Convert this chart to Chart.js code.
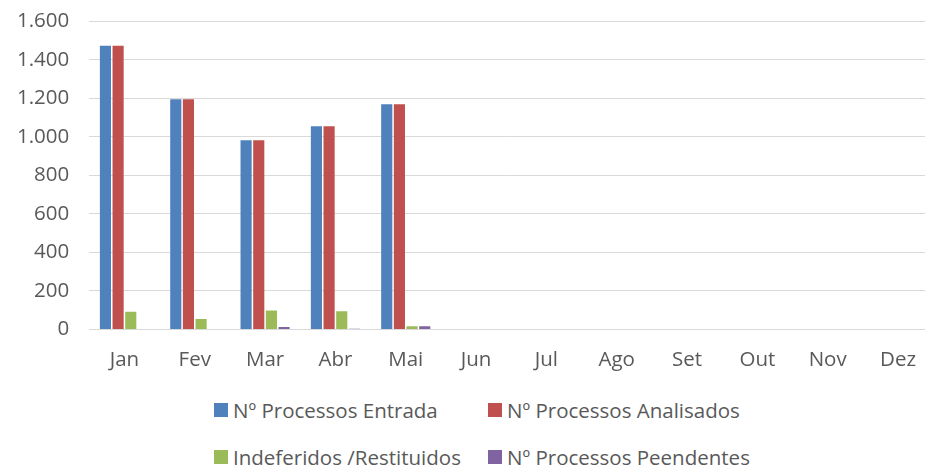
<!DOCTYPE html>
<html>
<head>
<meta charset="utf-8">
<script src="https://cdn.jsdelivr.net/npm/chart.js@4/dist/chart.umd.min.js"></script>
<style>
  html, body { margin: 0; padding: 0; background: #fff; overflow: hidden; }
  #wrap { position: relative; width: 925px; height: 468px; overflow: hidden; }
  #c { position: absolute; left: -9px; top: -11px; }
  #legend {
    position: absolute; left: 214px; top: 398px;
    display: grid; grid-template-columns: 274px 274px; row-gap: 23px;
    font: 20.5px "Open Sans", sans-serif; color: #595959;
  }
  .item { display: flex; align-items: center; white-space: nowrap; height: 24px; }
  .sw { width: 14px; height: 14px; margin-right: 5px; }
</style>
</head>
<body>
<div id="wrap">
  <canvas id="c" width="943" height="401"></canvas>
  <div id="legend"></div>
</div>
<script>
// meses
const meses = ['Jan', 'Fev', 'Mar', 'Abr', 'Mai', 'Jun', 'Jul', 'Ago', 'Set', 'Out', 'Nov', 'Dez'];

// valores (Jun–Dez vazios)
const entrada     = [1473, 1195, 982, 1055, 1169, 0, 0, 0, 0, 0, 0, 0];
const analisados  = [1473, 1195, 982, 1055, 1169, 0, 0, 0, 0, 0, 0, 0];
const indeferidos = [92, 54, 98, 94, 16, 0, 0, 0, 0, 0, 0, 0];
const pendentes   = [0, 0, 12, 4, 17, 0, 0, 0, 0, 0, 0, 0];

const yTicks = [0, 200, 400, 600, 800, 1000, 1200, 1400, 1600];

const series = [
  { label: 'Nº Processos Entrada', data: entrada, color: '#4F81BD' },
  { label: 'Nº Processos Analisados', data: analisados, color: '#C0504D' },
  { label: 'Indeferidos /Restituidos', data: indeferidos, color: '#9BBB59' },
  { label: 'Nº Processos Peendentes', data: pendentes, color: '#8064A2' }
];

const fmt = v => v.toLocaleString('de-DE');
const txt = '#595959';
const font = { family: '"Open Sans", sans-serif', size: 20.5 };

new Chart(document.getElementById('c'), {
  type: 'bar',
  data: {
    labels: meses,
    datasets: series.map(s => ({
      label: s.label,
      data: s.data,
      backgroundColor: s.color,
      borderWidth: 0,
      barPercentage: 0.88,
      categoryPercentage: 0.72
    }))
  },
  options: {
    responsive: false,
    animation: false,
    layout: { padding: { top: 0, right: 0, left: 6, bottom: 0 } },
    plugins: { legend: { display: false }, tooltip: { enabled: false } },
    scales: {
      x: {
        grid: { display: false, drawTicks: false },
        border: { color: '#d9d9d9', width: 1 },
        ticks: { color: txt, font, padding: 18 }
      },
      y: {
        min: 0,
        max: 1600,
        afterBuildTicks: axis => { axis.ticks = yTicks.map(v => ({ value: v })); },
        grid: { color: '#d9d9d9', drawTicks: false },
        border: { display: false },
        ticks: { color: txt, font, padding: 20, callback: v => fmt(v) }
      }
    }
  }
});

// legenda em duas colunas, como no original
const leg = document.getElementById('legend');
series.forEach(s => {
  const d = document.createElement('div');
  d.className = 'item';
  d.innerHTML = '<span class="sw" style="background:' + s.color + '"></span>' + s.label;
  leg.appendChild(d);
});
</script>
</body>
</html>
